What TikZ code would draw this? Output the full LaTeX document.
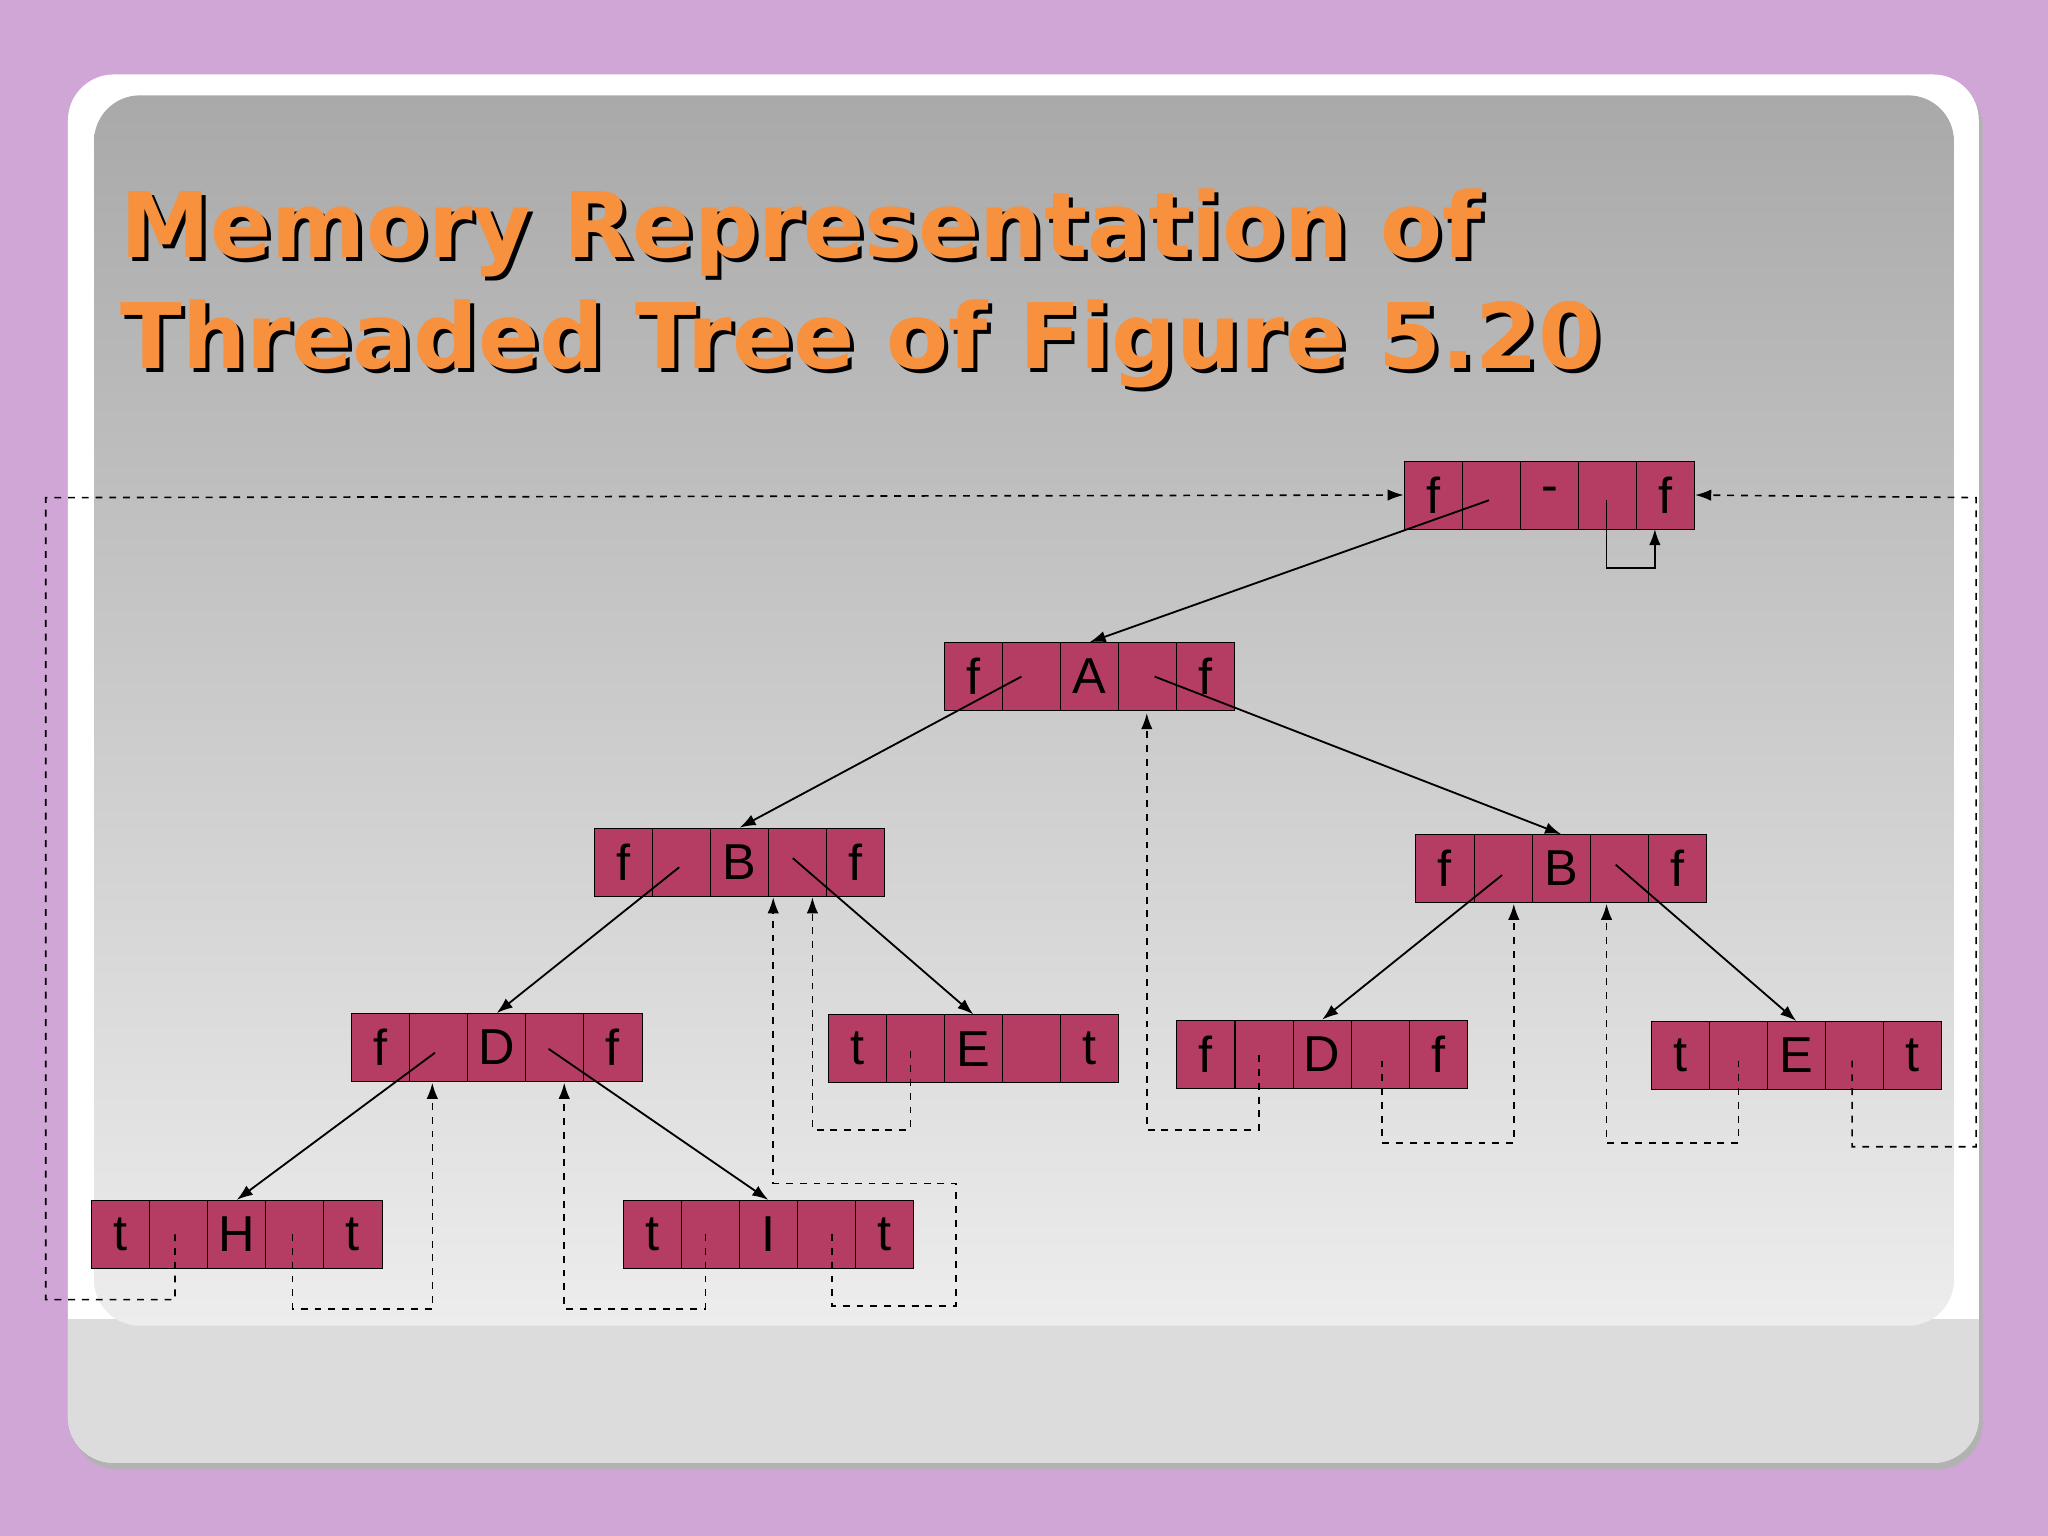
\documentclass[tikz,border=0pt]{standalone}
\usepackage{fontspec}
\setmainfont{Liberation Sans}
\newfontfamily\titlefont{DejaVu Sans}
\usetikzlibrary{arrows.meta,calc}
\definecolor{lav}{HTML}{CFA6D6}
\definecolor{cellc}{HTML}{B53D64}
\definecolor{orng}{HTML}{F7913D}
\definecolor{gtop}{HTML}{A9A9A9}
\definecolor{gbot}{HTML}{EDEDED}
\definecolor{lowg}{HTML}{DCDCDC}
\tikzset{
  cell/.style={draw=black,fill=cellc,minimum width=0.89cm,minimum height=1.04cm,inner sep=0pt,font=\fontsize{22}{22}\selectfont},
  tree/.style={-{Latex[length=7pt,width=5pt]},line width=0.8pt},
  thread/.style={-{Latex[length=7pt,width=5pt]},dashed,line width=0.7pt},
  ttl/.style={anchor=base west,inner sep=0pt,font=\titlefont\bfseries\fontsize{39.4}{39.4}\selectfont}
}
\newcommand{\rec}[8]{%
  \foreach \i/\t in {1/#4,2/#5,3/#6,4/#7,5/#8}{
    \node[cell] (#1-\i) at ({#2+44.5*(\i-0.5)},{#3+26}) {\t};
  }}
\begin{document}
\begin{tikzpicture}[x=0.02cm,y=-0.02cm]
\useasboundingbox (0,0) rectangle (1568,1176);
\fill[lav] (0,0) rectangle (1568,1176);
\fill[gray!60,rounded corners=20] (55,62) rectangle (1518,1125);
\fill[white,rounded corners=20] (52,57) rectangle (1515,1120);
\fill[lowg,rounded corners=20] (52,1010) rectangle (1515,1120);
\fill[lowg] (52,1010) rectangle (1515,1050);
\shade[top color=gtop,bottom color=gbot,rounded corners=20] (72,73) rectangle (1496,1015);
% title
\node[ttl,text=black] at (95,200) {Memory Representation of};
\node[ttl,text=orng] (t1) at (92,197) {Memory Representation of};
\node[ttl,text=black] at (95,285) {Threaded Tree of Figure 5.20};
\node[ttl,text=orng] (t2) at (92,282) {Threaded Tree of Figure 5.20};
% records
\rec{rt}{1075}{353}{f}{}{-}{}{f}
\rec{a}{723}{492}{f}{}{A}{}{f}
\rec{bl}{455}{634}{f}{}{B}{}{f}
\rec{br}{1084}{639}{f}{}{B}{}{f}
\rec{dl}{269}{776}{f}{}{D}{}{f}
\rec{el}{634}{777}{t}{}{E}{}{t}
\rec{dr}{901}{781}{f}{}{D}{}{f}
\rec{er}{1264}{782}{t}{}{E}{}{t}
\rec{h}{70}{919}{t}{}{H}{}{t}
\rec{ii}{477}{919}{t}{}{I}{}{t}
% tree links
\draw[tree] (1140,383) -- (a-3.north);
\draw[tree] (1230,383) -- (1230,435) -- (1267,435) -- (1267,405);
\draw[tree] (782,518) -- (bl-3.north);
\draw[tree] (884,518) -- (br-3.north);
\draw[tree] (520,664) -- (dl-3.north);
\draw[tree] (607,657) -- (el-3.north);
\draw[tree] (1150,670) -- (dr-3.north);
\draw[tree] (1237,662) -- (er-3.north);
\draw[tree] (333,806) -- (h-3.north);
\draw[tree] (420,803) -- (ii-3.north);
% threads
\draw[thread] (134,945) -- (134,995) -- (35,995) -- (35,381) -- (rt-1.west);
\draw[thread] (1418,812) -- (1418,878) -- (1513,878) -- (1513,381) -- (rt-5.east);
\draw[thread] (224,945) -- (224,1002) -- (331,1002) -- (331,829);
\draw[thread] (540,945) -- (540,1002) -- (432,1002) -- (432,829);
\draw[thread] (637,945) -- (637,1000) -- (732,1000) -- (732,906) -- (592,906) -- (592,687);
\draw[thread] (697,805) -- (697,865) -- (622,865) -- (622,687);
\draw[thread] (964,808) -- (964,865) -- (878,865) -- (878,546);
\draw[thread] (1058,812) -- (1058,875) -- (1159,875) -- (1159,692);
\draw[thread] (1331,812) -- (1331,875) -- (1230,875) -- (1230,692);
\end{tikzpicture}
\end{document}
